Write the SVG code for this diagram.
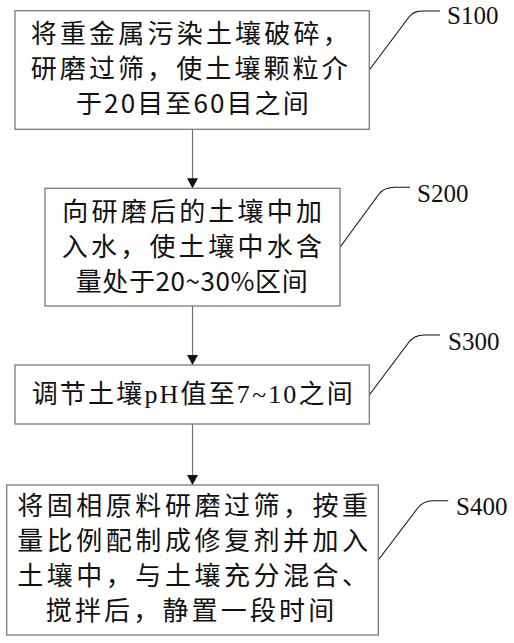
<svg xmlns="http://www.w3.org/2000/svg" width="514" height="643" viewBox="0 0 514 643">
<style>
.box{fill:#fff;stroke:#7a7a7a;stroke-width:1.3}
.t{font-family:"Noto Sans CJK SC","Noto Sans",sans-serif;font-size:26px;fill:#111}
.lat{font-family:"Liberation Serif",serif}
.lbl{font-family:"Liberation Serif","Times New Roman",serif;font-size:25px;fill:#111}
.conn{fill:none;stroke:#6e6e6e;stroke-width:1.2}
.lead{fill:none;stroke:#111;stroke-width:1.1}
</style>
<defs>
<marker id="ah" markerUnits="userSpaceOnUse" markerWidth="10" markerHeight="11" refX="10" refY="5.5" orient="auto">
<path d="M0,0 L10,5.5 L0,11 Z" fill="#111"/>
</marker>
</defs>
<rect width="514" height="643" fill="#fff"/>
<g id="connectors">
<line class="conn" x1="192.5" y1="129.3" x2="192.5" y2="188.3" marker-end="url(#ah)"/>
<line class="conn" x1="192.5" y1="306" x2="192.5" y2="365" marker-end="url(#ah)"/>
<line class="conn" x1="192.5" y1="424" x2="192.5" y2="485" marker-end="url(#ah)"/>
<path class="lead" d="M369.3 70 L409 17 C413 12 417 11 424 11 L440 11"/>
<path class="lead" d="M340 247.3 L379 194 C383 189 388 187.3 395 187.3 L410 187.3"/>
<path class="lead" d="M369.3 395 L409 342 C413 337 417 335 424 335 L440 335"/>
<path class="lead" d="M378.3 560 L417 509 C421 503 426 500.7 433 500.7 L448.3 500.7"/>
</g>
<g id="S100">
<rect class="box" x="15" y="10.7" width="354.3" height="118.6"/>
<text class="t" x="30.7" y="43" textLength="318" lengthAdjust="spacing">将重金属污染土壤破碎，</text>
<text class="t" x="30.7" y="78" textLength="317" lengthAdjust="spacing">研磨过筛，使土壤颗粒介</text>
<text class="t" x="76" y="113" textLength="232.7" lengthAdjust="spacing">于20目至60目之间</text>
<text class="lbl" x="447" y="24">S100</text>
</g>
<g id="S200">
<rect class="box" x="45" y="188.3" width="295" height="117.7"/>
<text class="t" x="62.3" y="221" textLength="259.7" lengthAdjust="spacing">向研磨后的土壤中加</text>
<text class="t" x="61.7" y="256" textLength="260.3" lengthAdjust="spacing">入水，使土壤中水含</text>
<text class="t" x="75.7" y="291" textLength="232" lengthAdjust="spacing">量处于20~30%区间</text>
<text class="lbl" x="417" y="202">S200</text>
</g>
<g id="S300">
<rect class="box" x="15" y="365" width="354.3" height="59"/>
<text class="t" x="31.7" y="403" textLength="321" lengthAdjust="spacing">调节土壤<tspan class="lat">pH</tspan>值至<tspan class="lat">7~10</tspan>之间</text>
<text class="lbl" x="448" y="350">S300</text>
</g>
<g id="S400">
<rect class="box" x="6.7" y="485" width="371.6" height="150"/>
<text class="t" x="17.3" y="515" textLength="350.7" lengthAdjust="spacing">将固相原料研磨过筛，按重</text>
<text class="t" x="17.3" y="550" textLength="350.7" lengthAdjust="spacing">量比例配制成修复剂并加入</text>
<text class="t" x="17.3" y="585" textLength="350.7" lengthAdjust="spacing">土壤中，与土壤充分混合、</text>
<text class="t" x="45.7" y="620" textLength="288.6" lengthAdjust="spacing">搅拌后，静置一段时间</text>
<text class="lbl" x="456" y="515">S400</text>
</g>
</svg>
